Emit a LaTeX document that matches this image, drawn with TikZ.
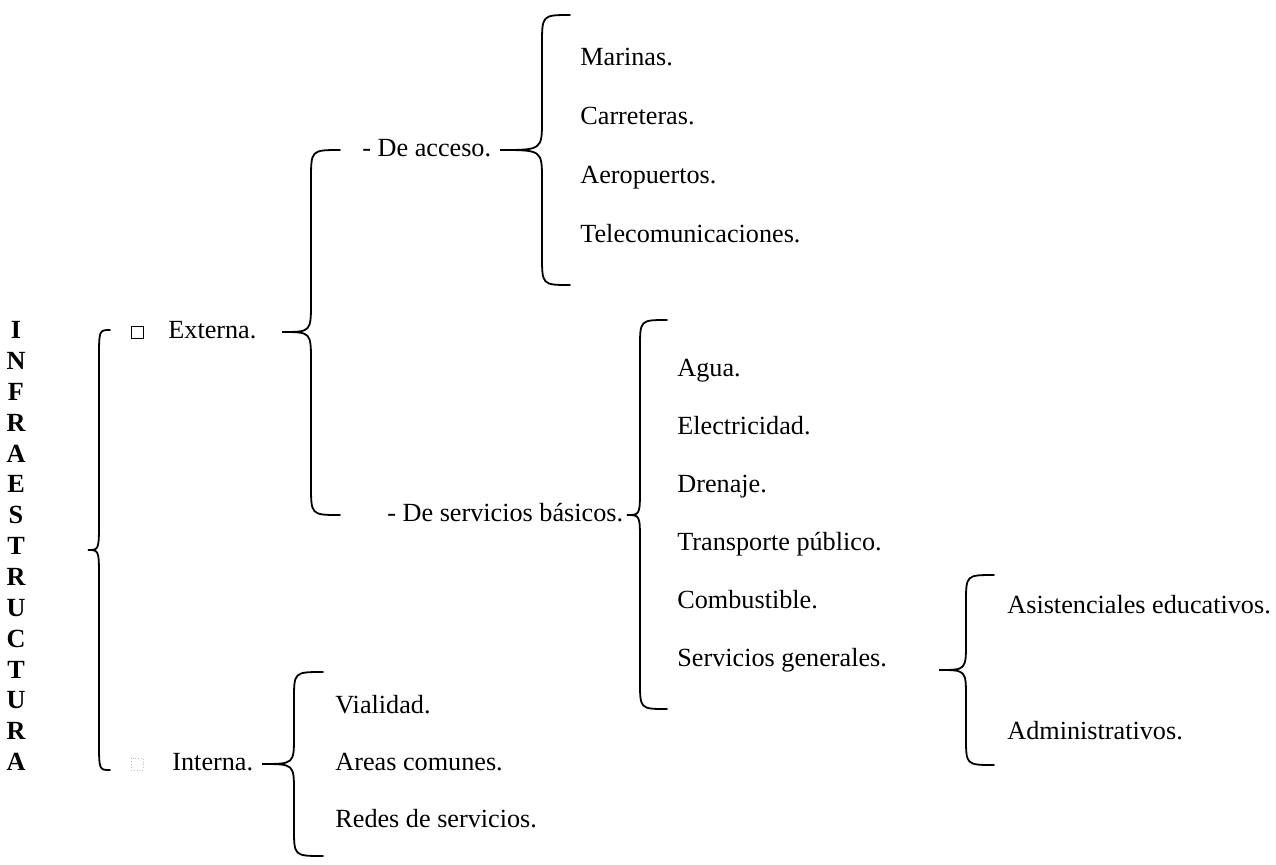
\documentclass[tikz,border=0pt]{standalone}
\usepackage{fontspec}
\setmainfont{Liberation Serif}

% llave: x extremos, x lomo, x punta, y arriba, y punta, y abajo, curva
\newcommand{\llave}[7]{%
  \draw[trazo] (#1,#4) .. controls (#2,#4) .. (#2,{#4+#7})
    -- (#2,{#5-#7}) .. controls (#2,#5) .. (#3,#5)
    .. controls (#2,#5) .. (#2,{#5+#7})
    -- (#2,{#6-#7}) .. controls (#2,#6) .. (#1,#6);}

\begin{document}
\begin{tikzpicture}[x=0.5pt,y=-0.5pt,
  font=\fontsize{13.1}{16}\selectfont,
  texto/.style={anchor=west,inner sep=0pt,text height=0.75em,text depth=0.15em},
  letra/.style={inner sep=0pt,font=\fontsize{13.1}{16}\selectfont\bfseries,text height=0.66em,text depth=0pt},
  caja/.style={draw,minimum size=6pt,inner sep=0pt,line width=0.4pt},
  trazo/.style={line width=0.9pt,line cap=round}]
  \useasboundingbox (0,0) rectangle (1276,864);

  %draw vertical title
  \foreach \l [count=\i from 0] in {I,N,F,R,A,E,S,T,R,U,C,T,U,R,A}
    \node[letra] (letra\i) at (16,{332+30.86*\i}) {\l};

  %draw first level
  \node[caja] (cajaext) at (137,332) {};
  \node[caja,densely dotted,draw=gray!50] (cajaint) at (137,764) {};
  \node[texto] (externa) at (168,332) {Externa.};
  \node[texto] (interna) at (172,764) {Interna.};

  %draw second level
  \node[texto] (acceso) at (362,150) {- De acceso.};
  \node[texto] (basicos) at (387,515) {- De servicios básicos.};
  \node[texto] (vialidad) at (335,707) {Vialidad.};
  \node[texto] (areas) at (335,764) {Areas comunes.};
  \node[texto] (redes) at (335,821) {Redes de servicios.};

  %draw third level
  \node[texto] (marinas) at (580,59) {Marinas.};
  \node[texto] (carreteras) at (580,118) {Carreteras.};
  \node[texto] (aeropuertos) at (580,177) {Aeropuertos.};
  \node[texto] (telecom) at (580,236) {Telecomunicaciones.};
  \node[texto] (agua) at (677,370) {Agua.};
  \node[texto] (electricidad) at (677,428) {Electricidad.};
  \node[texto] (drenaje) at (677,486) {Drenaje.};
  \node[texto] (transporte) at (677,544) {Transporte público.};
  \node[texto] (combustible) at (677,602) {Combustible.};
  \node[texto] (generales) at (677,660) {Servicios generales.};
  \node[texto] (asistenciales) at (1007,607) {Asistenciales educativos.};
  \node[texto] (administrativos) at (1007,733) {Administrativos.};

  %draw braces
  \llave{110}{99}{88}{330}{550}{770}{30}
  \llave{340}{311}{282}{150}{332}{515}{30}
  \llave{570}{542}{500}{15}{150}{285}{30}
  \llave{667}{640}{627}{320}{515}{709}{28}
  \llave{323}{294}{262}{672}{764}{856}{28}
  \llave{994}{966}{939}{575}{670}{765}{28}
\end{tikzpicture}
\end{document}
